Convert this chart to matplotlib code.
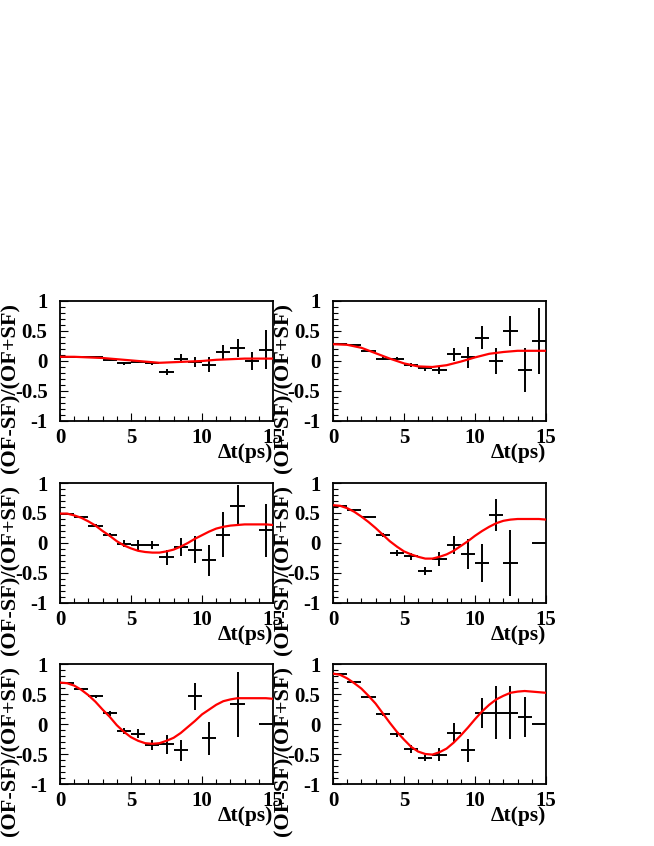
import numpy as np
import matplotlib
matplotlib.use("Agg")
import matplotlib.pyplot as plt

plt.rcParams['font.family'] = ['Liberation Serif', 'DejaVu Serif']
plt.rcParams['font.weight'] = 'bold'

bin_centers = [0.5, 1.5, 2.5, 3.5, 4.5, 5.5, 6.5, 7.5, 8.5, 9.5, 10.5, 11.5, 12.5, 13.5, 14.5]
bin_half_width = 0.5
nan = float('nan')

asym_1 = [0.07, 0.07, 0.067, 0.01, -0.04, -0.01, -0.04, -0.18, 0.04, -0.02, -0.06, 0.15, 0.22, 0.0, 0.19]
err_1 = [0.01, 0.01, 0.01, 0.01, 0.02, 0.02, 0.03, 0.05, 0.07, 0.08, 0.12, 0.12, 0.15, 0.15, 0.32]

asym_2 = [0.28, 0.26, 0.17, 0.04, 0.04, -0.07, -0.12, -0.15, 0.11, 0.06, 0.39, 0.0, 0.50, -0.15, 0.33]
err_2 = [0.01, 0.01, 0.02, 0.03, 0.03, 0.03, 0.04, 0.06, 0.11, 0.18, 0.19, 0.22, 0.25, 0.36, 0.55]

asym_3 = [0.49, 0.44, 0.29, 0.13, -0.01, -0.03, -0.03, -0.24, -0.07, -0.11, -0.29, 0.14, 0.62, nan, 0.21]
err_3 = [0.01, 0.01, 0.02, 0.03, 0.06, 0.08, 0.07, 0.13, 0.15, 0.23, 0.26, 0.37, 0.34, nan, 0.44]

asym_4 = [0.62, 0.55, 0.43, 0.13, -0.16, -0.22, -0.47, -0.27, -0.04, -0.18, -0.33, 0.47, -0.33, nan, 0.0]
err_4 = [0.01, 0.01, 0.02, 0.03, 0.05, 0.06, 0.07, 0.12, 0.15, 0.25, 0.32, 0.27, 0.55, nan, 0.0]

asym_5 = [0.69, 0.59, 0.46, 0.18, -0.11, -0.16, -0.35, -0.34, -0.44, 0.46, -0.24, nan, 0.33, nan, 0.0]
err_5 = [0.01, 0.01, 0.02, 0.04, 0.05, 0.07, 0.09, 0.16, 0.17, 0.23, 0.27, nan, 0.54, nan, 0.0]

asym_6 = [0.84, 0.70, 0.45, 0.16, -0.17, -0.42, -0.56, -0.51, -0.15, -0.44, 0.19, 0.19, 0.19, 0.12, 0.0]
err_6 = [0.01, 0.01, 0.02, 0.03, 0.04, 0.07, 0.05, 0.11, 0.16, 0.19, 0.25, 0.44, 0.44, 0.33, 0.0]

# fitted curves
fit_t_coarse = [0, 1, 2, 3, 4, 5, 6, 7, 8, 9, 10, 11, 12, 13, 14, 15]
fit_1 = [0.07, 0.07, 0.06, 0.05, 0.03, 0.01, -0.01, -0.03, -0.02, -0.01, 0.0, 0.02, 0.03, 0.04, 0.04, 0.04]
fit_2 = [0.28, 0.27, 0.22, 0.13, 0.04, -0.04, -0.09, -0.10, -0.07, -0.01, 0.06, 0.12, 0.15, 0.17, 0.17, 0.17]

fit_t_fine = [0, 0.5, 1, 1.5, 2, 2.5, 3, 3.5, 4, 4.5, 5, 5.5, 6, 6.5, 7, 7.5,
              8, 8.5, 9, 9.5, 10, 10.5, 11, 11.5, 12, 12.5, 13, 13.5, 14, 14.5, 15]
fit_3 = [0.49, 0.49, 0.46, 0.42, 0.36, 0.29, 0.20, 0.12, 0.03, -0.04, -0.09, -0.13, -0.15, -0.16, -0.16, -0.14,
         -0.11, -0.06, 0.0, 0.07, 0.13, 0.19, 0.24, 0.27, 0.29, 0.30, 0.31, 0.31, 0.31, 0.31, 0.30]
fit_4 = [0.63, 0.62, 0.58, 0.52, 0.44, 0.35, 0.25, 0.14, 0.03, -0.06, -0.14, -0.19, -0.23, -0.26, -0.26, -0.23,
         -0.19, -0.13, -0.05, 0.03, 0.12, 0.20, 0.27, 0.33, 0.37, 0.39, 0.40, 0.40, 0.40, 0.40, 0.39]
fit_5 = [0.69, 0.68, 0.64, 0.57, 0.48, 0.37, 0.24, 0.12, -0.02, -0.13, -0.22, -0.28, -0.32, -0.33, -0.32, -0.28,
         -0.23, -0.15, -0.05, 0.05, 0.16, 0.24, 0.32, 0.38, 0.41, 0.43, 0.43, 0.43, 0.43, 0.43, 0.42]
fit_6 = [0.84, 0.82, 0.76, 0.68, 0.59, 0.47, 0.34, 0.18, 0.02, -0.13, -0.26, -0.38, -0.46, -0.50, -0.51, -0.47,
         -0.41, -0.31, -0.19, -0.06, 0.08, 0.21, 0.32, 0.41, 0.47, 0.52, 0.54, 0.55, 0.54, 0.53, 0.52]

x_ticks = [0, 5, 10, 15]
x_ticklabels = ['0', '5', '10', '15']
y_ticks = [-1, -0.5, 0, 0.5, 1]
y_ticklabels = ['-1', '-0.5', '0', '0.5', '1']
x_label = '\u0394t(ps)'
y_label = '(OF-SF)/(OF+SF)'

panels = [(asym_1, err_1, fit_t_coarse, fit_1), (asym_2, err_2, fit_t_coarse, fit_2),
          (asym_3, err_3, fit_t_fine, fit_3), (asym_4, err_4, fit_t_fine, fit_4),
          (asym_5, err_5, fit_t_fine, fit_5), (asym_6, err_6, fit_t_fine, fit_6)]

W, H = 654, 846
fig = plt.figure(figsize=(W / 100, H / 100), dpi=100)

col_left = [60, 333]
ax_w = 213
row_top = [301, 483, 664]
ax_h = 120

for i, (vals, errs, ft, fit) in enumerate(panels):
    r, c = divmod(i, 2)
    left = col_left[c] / W
    bottom = 1 - (row_top[r] + ax_h) / H
    ax = fig.add_axes([left, bottom, ax_w / W, ax_h / H])
    ax.patch.set_alpha(0)
    ax.errorbar(bin_centers, vals, xerr=bin_half_width, yerr=errs, fmt='none',
                ecolor='black', elinewidth=1.4, capsize=0, zorder=2)
    ax.plot(ft, fit, color='red', lw=1.6, zorder=3)
    ax.set_xlim(0, 15)
    ax.set_ylim(-1, 1)
    ax.set_xticks(x_ticks)
    ax.set_xticklabels(x_ticklabels)
    ax.set_yticks(y_ticks)
    ax.set_yticklabels(y_ticklabels)
    ax.set_xticks(np.arange(0, 15.01, 1), minor=True)
    ax.set_yticks(np.arange(-1, 1.001, 0.1), minor=True)
    ax.tick_params(which='both', direction='in', top=False, right=False,
                   color='black', width=0.8)
    ax.tick_params(which='major', length=6, labelsize=15)
    ax.tick_params(which='minor', length=3.5)
    ax.tick_params(axis='x', pad=5)
    ax.tick_params(axis='y', pad=9)
    for lab in ax.get_xticklabels() + ax.get_yticklabels():
        lab.set_fontweight('bold')
    for s in ax.spines.values():
        s.set_linewidth(1.3)
    ax.text(1.0, -0.27, x_label, transform=ax.transAxes, ha='right', va='center',
            fontsize=15.5, fontweight='bold')
    ax.text(-50 / ax_w, 1.0 - 2 / ax_h, y_label, transform=ax.transAxes, rotation=90,
            ha='center', va='top', fontsize=16, fontweight='bold', zorder=5)

fig.savefig('out.png', dpi=100)
